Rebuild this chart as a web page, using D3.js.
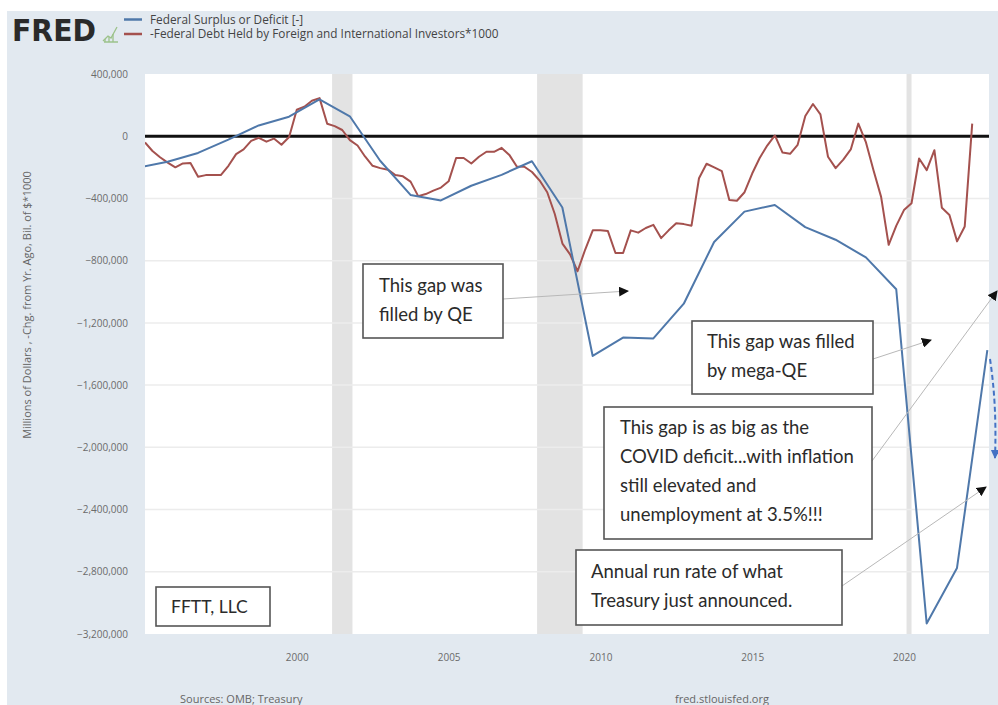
<!DOCTYPE html>
<html>
<head>
<meta charset="utf-8">
<script src="https://cdn.jsdelivr.net/npm/d3@7"></script>
<style>
  html, body { margin: 0; padding: 0; background: #ffffff; }
  svg { display: block; }
</style>
</head>
<body>
<svg id="chart" width="998" height="705"></svg>
<script>
// ---------------- DATA ----------------
const seriesNames = [
  "Federal Surplus or Deficit [-]",
  "-Federal Debt Held by Foreign and International Investors*1000"
];
// Blue: fiscal-year federal surplus/deficit (millions of dollars), dated end of fiscal year
const fiscalYears = [1994,1995,1996,1997,1998,1999,2000,2001,2002,2003,2004,2005,2006,2007,2008,
  2009,2010,2011,2012,2013,2014,2015,2016,2017,2018,2019,2020,2021,2022];
const deficitValues = [-203186,-164007,-107431,-21884,69270,125610,236241,128236,-157758,-377585,
  -412727,-318346,-248181,-160701,-458553,-1412688,-1294373,-1299599,-1076573,-679775,-484602,
  -441960,-584651,-665446,-779137,-983601,-3131917,-2775306,-1375476];

// Red: quarterly, starting 1995 Q1
const foreignStartYear = 1995;
const foreignValues = [
  -40000,-95000,-135000,-170000,      // 1995
  -200000,-175000,-172000,-260000,    // 1996
  -250000,-250000,-250000,-190000,    // 1997
  -115000,-85000,-30000,-10000,       // 1998
  -35000,-15000,-55000,-5000,         // 1999
  170000,190000,228000,245000,        // 2000
  80000,65000,40000,-25000,           // 2001
  -60000,-130000,-190000,-205000,     // 2002
  -215000,-250000,-258000,-292000,    // 2003
  -385000,-372000,-350000,-330000,    // 2004
  -290000,-140000,-140000,-175000,    // 2005
  -132000,-100000,-100000,-75000,     // 2006
  -120000,-195000,-196000,-230000,    // 2007
  -285000,-360000,-500000,-690000,    // 2008
  -760000,-868000,-730000,-605000,    // 2009
  -605000,-610000,-751000,-751000,    // 2010
  -605000,-620000,-590000,-570000,    // 2011
  -655000,-605000,-560000,-565000,    // 2012
  -575000,-270000,-177000,-200000,    // 2013
  -225000,-410000,-415000,-360000,    // 2014
  -240000,-140000,-60000,5000,        // 2015
  -105000,-113000,-55000,130000,      // 2016
  207000,140000,-132000,-205000,      // 2017
  -150000,-85000,81000,-40000,        // 2018
  -222000,-390000,-698000,-575000,    // 2019
  -475000,-431000,-143000,-218000,    // 2020
  -90000,-460000,-506000,-676000,     // 2021
  -580000,81000                       // 2022
];

// Recessions (start, end)
const recessionStarts = ["2001-03-01","2007-12-01","2020-02-01"];
const recessionEnds   = ["2001-11-01","2009-06-01","2020-04-01"];

const yTicks = [400000,0,-400000,-800000,-1200000,-1600000,-2000000,-2400000,-2800000,-3200000];
const xTickYears = [2000,2005,2010,2015,2020];

const annotations = [
  ["This gap was", "filled by QE"],
  ["This gap was filled", "by mega-QE"],
  ["This gap is as big as the", "COVID deficit...with inflation", "still elevated and", "unemployment at 3.5%!!!"],
  ["Annual run rate of what", "Treasury just announced."],
  ["FFTT, LLC"]
];

// ---------------- LAYOUT ----------------
const svg = d3.select("#chart");
const W = 998, H = 705;
const plot = {left: 145, right: 989, top: 74, bottom: 634};
const blueColor = "#4f78aa", redColor = "#a4514e";
const bg = "#e2e9f0";

// page background
svg.append("rect").attr("x", 7).attr("y", 11).attr("width", W - 7).attr("height", H - 11).attr("fill", bg);

const parse = d3.timeParse("%Y-%m-%d");
const x = d3.scaleTime()
  .domain([new Date(1995, 0, 1), new Date(2022, 9, 20)])
  .range([plot.left, plot.right]);
const y = d3.scaleLinear()
  .domain([-3200000, 400000])
  .range([plot.bottom, plot.top]);

// plot area
svg.append("rect").attr("x", plot.left).attr("y", plot.top)
  .attr("width", plot.right - plot.left).attr("height", plot.bottom - plot.top)
  .attr("fill", "#ffffff");

svg.append("clipPath").attr("id", "clip").append("rect")
  .attr("x", plot.left).attr("y", plot.top)
  .attr("width", plot.right - plot.left).attr("height", plot.bottom - plot.top);

// recession bands
svg.append("g").selectAll("rect").data(recessionStarts.map((s, i) => [parse(s), parse(recessionEnds[i])]))
  .join("rect")
  .attr("x", d => x(d[0])).attr("width", d => Math.max(3, x(d[1]) - x(d[0])))
  .attr("y", plot.top).attr("height", plot.bottom - plot.top)
  .attr("fill", "#e3e3e3");

// gridlines
svg.append("g").selectAll("line").data(yTicks.slice(1, -1))
  .join("line")
  .attr("x1", plot.left).attr("x2", plot.right)
  .attr("y1", d => y(d)).attr("y2", d => y(d))
  .attr("stroke", "#ececec").attr("stroke-width", 1.5);

// y axis labels
const yAxis = d3.axisLeft(y).tickValues(yTicks).tickFormat(d3.format(",")).tickSize(0).tickPadding(0);
const yg = svg.append("g").attr("transform", `translate(${plot.left - 17},0)`).call(yAxis);
yg.select(".domain").remove();
yg.selectAll("text").attr("font-family", "Open Sans").attr("font-size", 10).attr("fill", "#6b6b6b");

// x axis labels
const xAxis = d3.axisBottom(x).tickValues(xTickYears.map(yy => new Date(yy, 0, 1)))
  .tickFormat(d3.timeFormat("%Y")).tickSize(0).tickPadding(0);
const xg = svg.append("g").attr("transform", `translate(0,${plot.bottom + 20})`).call(xAxis);
xg.select(".domain").remove();
xg.selectAll("text").attr("font-family", "Open Sans").attr("font-size", 10).attr("fill", "#6b6b6b");

// y axis title
svg.append("text")
  .attr("transform", "translate(31,305) rotate(-90)")
  .attr("text-anchor", "middle")
  .attr("font-family", "Open Sans").attr("font-size", 11).attr("fill", "#666")
  .text("Millions of Dollars , -Chg. from Yr. Ago, Bil. of $*1000");

// zero line
svg.append("line")
  .attr("x1", plot.left).attr("x2", plot.right)
  .attr("y1", y(0)).attr("y2", y(0))
  .attr("stroke", "#111").attr("stroke-width", 3);

// series
const blueData = fiscalYears.map((yr, i) => ({date: new Date(yr, 8, 30), value: deficitValues[i]}));
const redData = foreignValues.map((v, i) => ({date: new Date(foreignStartYear, i * 3, 1), value: v}));
const line = d3.line().x(d => x(d.date)).y(d => y(d.value));

const lines = svg.append("g").attr("clip-path", "url(#clip)");
lines.append("path").datum(redData).attr("d", line)
  .attr("fill", "none").attr("stroke", redColor).attr("stroke-width", 2).attr("stroke-linejoin", "round");
lines.append("path").datum(blueData).attr("d", line)
  .attr("fill", "none").attr("stroke", blueColor).attr("stroke-width", 2).attr("stroke-linejoin", "round");

// ---------------- HEADER ----------------
svg.append("text").attr("x", 12).attr("y", 41)
  .attr("font-family", "DejaVu Sans").attr("font-weight", "bold").attr("font-size", 30)
  .attr("textLength", 84).attr("lengthAdjust", "spacingAndGlyphs")
  .attr("fill", "#2a2a2a").text("FRED");
// small green icon
const ic = svg.append("g").attr("fill", "none").attr("stroke", "#9cc28a").attr("stroke-width", 1.3);
ic.append("path").attr("d", "M103,41 L108,36 L111,38 L117,27");
ic.append("path").attr("d", "M104,42 L118,42 M105,39 L105,42 M109,37 L109,42 M113,34 L113,42");

const legendY = [19.5, 34];
[blueColor, redColor].forEach((c, i) => {
  svg.append("line").attr("x1", 124).attr("x2", 142).attr("y1", legendY[i]).attr("y2", legendY[i])
    .attr("stroke", c).attr("stroke-width", 2.5);
  svg.append("text").attr("x", 150).attr("y", legendY[i] + 4)
    .attr("font-family", "Open Sans").attr("font-size", 11.8).attr("fill", "#444")
    .text(seriesNames[i]);
});

// footer
svg.append("text").attr("x", 180).attr("y", 703)
  .attr("font-family", "Open Sans").attr("font-size", 11).attr("fill", "#666").text("Sources: OMB; Treasury");
svg.append("text").attr("x", 675).attr("y", 703)
  .attr("font-family", "Open Sans").attr("font-size", 11).attr("fill", "#666").text("fred.stlouisfed.org");

// ---------------- ANNOTATIONS ----------------
const defs = svg.append("defs");
defs.append("marker").attr("id", "arrowBlack").attr("viewBox", "0 0 10 10")
  .attr("refX", 9).attr("refY", 5).attr("markerWidth", 10).attr("markerHeight", 10)
  .attr("markerUnits", "userSpaceOnUse").attr("orient", "auto")
  .append("path").attr("d", "M0,0 L10,5 L0,10 Z").attr("fill", "#111");
defs.append("marker").attr("id", "arrowBlue").attr("viewBox", "0 0 10 10")
  .attr("refX", 9).attr("refY", 5).attr("markerWidth", 9).attr("markerHeight", 9)
  .attr("markerUnits", "userSpaceOnUse").attr("orient", "auto")
  .append("path").attr("d", "M0,0 L10,5 L0,10 Z").attr("fill", "#4472c4");

// connectors
const connectors = [
  [503, 299, 628, 291],
  [873, 359, 931, 340],
  [872, 461, 997, 291],
  [842, 586, 986, 487]
];
svg.append("g").selectAll("line").data(connectors).join("line")
  .attr("x1", d => d[0]).attr("y1", d => d[1]).attr("x2", d => d[2]).attr("y2", d => d[3])
  .attr("stroke", "#b8b8b8").attr("stroke-width", 1)
  .attr("marker-end", "url(#arrowBlack)");

// blue dashed arrow
svg.append("path").attr("d", "M990,359 Q997,405 995,458")
  .attr("fill", "none").attr("stroke", "#4472c4").attr("stroke-width", 2)
  .attr("stroke-dasharray", "5,3").attr("marker-end", "url(#arrowBlue)");

const boxes = [
  {x: 363, y: 264, w: 140, h: 74, tx: 379, ty: 292, lh: 28.5, fs: 18.5},
  {x: 692, y: 321, w: 181, h: 73, tx: 707, ty: 348, lh: 28.5, fs: 18.5},
  {x: 604, y: 407, w: 268, h: 132, tx: 620, ty: 434, lh: 29, fs: 18.5},
  {x: 576, y: 550, w: 266, h: 75, tx: 591, ty: 578, lh: 28.5, fs: 18.5},
  {x: 156, y: 587, w: 114, h: 39, tx: 171, ty: 613, lh: 28, fs: 17.5}
];
boxes.forEach((b, i) => {
  const g = svg.append("g");
  g.append("rect").attr("x", b.x).attr("y", b.y).attr("width", b.w).attr("height", b.h)
    .attr("fill", "#ffffff").attr("stroke", "#555").attr("stroke-width", 1.6);
  annotations[i].forEach((t, j) => {
    g.append("text").attr("x", b.tx).attr("y", b.ty + j * b.lh)
      .attr("font-family", "Lato").attr("font-size", b.fs).attr("fill", "#2b2b2b")
      .text(t);
  });
});
</script>
</body>
</html>
